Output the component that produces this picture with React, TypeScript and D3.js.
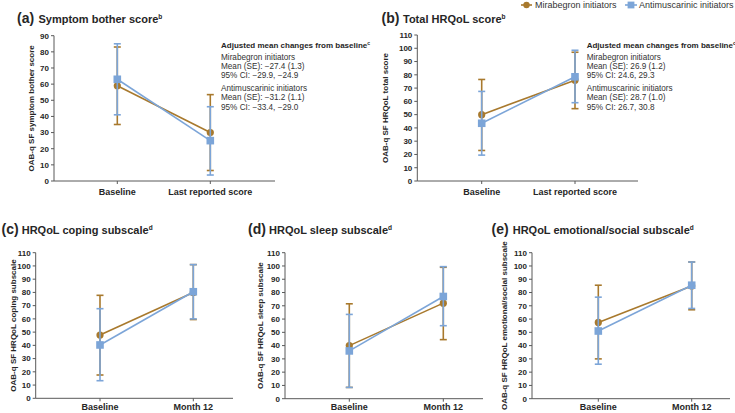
import React from "react";
import * as d3 from "d3";

// ---------- data ----------
const catsAB = ["Baseline", "Last reported score"];
const catsCDE = ["Baseline", "Month 12"];

const aMir = [59, 30];
const aMirLo = [35, 6.5];
const aMirHi = [83, 53.5];
const aAnt = [63, 25];
const aAntLo = [41, 3.7];
const aAntHi = [85, 46];

const bMir = [50, 76];
const bMirLo = [23, 54.5];
const bMirHi = [76.5, 97];
const bAnt = [43.5, 78.5];
const bAntLo = [19.5, 59];
const bAntHi = [67.5, 98.5];

const cMir = [47.8, 80];
const cMirLo = [17.6, 59.5];
const cMirHi = [77.8, 101];
const cAnt = [40.3, 80.5];
const cAntLo = [13.3, 60];
const cAntHi = [67.7, 101];

const dMir = [40, 72];
const dMirLo = [8.5, 44.5];
const dMirHi = [71.5, 99];
const dAnt = [36, 77];
const dAntLo = [8.5, 55];
const dAntHi = [63.5, 99.5];

const eMir = [57.5, 85];
const eMirLo = [30, 67];
const eMirHi = [85.5, 103];
const eAnt = [51, 85.5];
const eAntLo = [26, 68];
const eAntHi = [76.5, 103];

const seriesNames = ["Mirabegron initiators", "Antimuscarinic initiators"];
const annotHeading = "Adjusted mean changes from baseline";
const annotA = [
  "Mirabegron initiators",
  "Mean (SE): \u221227.4 (1.3)",
  "95% CI: \u221229.9, \u221224.9",
  "Antimuscarinic initiators",
  "Mean (SE): \u221231.2 (1.1)",
  "95% CI: \u221233.4, \u221229.0",
];
const annotB = [
  "Mirabegron initiators",
  "Mean (SE): 26.9 (1.2)",
  "95% CI: 24.6, 29.3",
  "Antimuscarinic initiators",
  "Mean (SE): 28.7 (1.0)",
  "95% CI: 26.7, 30.8",
];

// ---------- style ----------
const MIR = "#A8792D";
const ANT = "#7CA5D8";
const AXIS = "#595959";
const TEXT = "#262626";
const FONT = "'Liberation Sans', Arial, Helvetica, sans-serif";

type Series = { mean: number[]; lo: number[]; hi: number[]; color: string; shape: "circle" | "square" };

type PanelProps = {
  letter: string;
  title: string;
  sup: string;
  titleX: number;
  titleTextX: number;
  titleY: number;
  yLabel: string;
  yLabelX: number;
  axisX: number;
  axisEnd: number;
  catX: [number, number];
  yTop: number;
  yBot: number;
  yMax: number;
  cats: string[];
  catLabelY: number;
  series: Series[];
  annot?: string[];
  annotX?: number;
};

function Panel(p: PanelProps) {
  const y = d3.scaleLinear().domain([0, p.yMax]).range([p.yBot, p.yTop]);
  const x = d3.scalePoint<string>().domain(p.cats).range(p.catX).padding(0);
  const ticks = d3.range(0, p.yMax + 1, 10);
  const line = d3
    .line<number>()
    .x((_, i) => x(p.cats[i]) as number)
    .y((v) => y(v));
  const cap = 3.5;
  return (
    <g fontFamily={FONT}>
      {/* title */}
      <text x={p.titleX} y={p.titleY} fontSize={14} fontWeight="bold" fill={TEXT}>
        {p.letter}
      </text>
      <text x={p.titleTextX} y={p.titleY} fontSize={11} fontWeight="bold" fill={TEXT}>
        {p.title}
        <tspan fontSize={6.5} dy={-4.5}>
          {p.sup}
        </tspan>
      </text>
      {/* y axis */}
      <line x1={p.axisX} x2={p.axisX} y1={y(p.yMax)} y2={p.yBot} stroke={AXIS} strokeWidth={1} />
      {ticks.map((t) => (
        <g key={t}>
          <line x1={p.axisX - 3} x2={p.axisX} y1={y(t)} y2={y(t)} stroke={AXIS} strokeWidth={1} />
          <text
            x={p.axisX - 5}
            y={y(t)}
            dy="0.35em"
            textAnchor="end"
            fontSize={8}
            fontWeight="bold"
            fill={TEXT}
          >
            {t}
          </text>
        </g>
      ))}
      <text
        transform={`translate(${p.yLabelX},${(p.yTop + p.yBot) / 2}) rotate(-90)`}
        textAnchor="middle"
        dy="0.35em"
        fontSize={8}
        fontWeight="bold"
        fill={TEXT}
      >
        {p.yLabel}
      </text>
      {/* x axis */}
      <line x1={p.axisX} x2={p.axisEnd} y1={p.yBot} y2={p.yBot} stroke={AXIS} strokeWidth={1} />
      {p.cats.map((c) => (
        <g key={c}>
          <line
            x1={x(c) as number}
            x2={x(c) as number}
            y1={p.yBot}
            y2={p.yBot + 3}
            stroke={AXIS}
            strokeWidth={1}
          />
          <text
            x={x(c) as number}
            y={p.catLabelY}
            textAnchor="middle"
            fontSize={9}
            fontWeight="bold"
            fill={TEXT}
          >
            {c}
          </text>
        </g>
      ))}
      {/* series */}
      {p.series.map((s, si) => (
        <g key={si}>
          {s.mean.map((_, i) => {
            const cx = x(p.cats[i]) as number;
            return (
              <g key={i} stroke={s.color} strokeWidth={1.6}>
                <line x1={cx} x2={cx} y1={y(s.lo[i])} y2={y(s.hi[i])} />
                <line x1={cx - cap} x2={cx + cap} y1={y(s.lo[i])} y2={y(s.lo[i])} />
                <line x1={cx - cap} x2={cx + cap} y1={y(s.hi[i])} y2={y(s.hi[i])} />
              </g>
            );
          })}
          <path d={line(s.mean) || ""} fill="none" stroke={s.color} strokeWidth={1.6} />
          {s.mean.map((v, i) => {
            const cx = x(p.cats[i]) as number;
            return s.shape === "circle" ? (
              <circle key={i} cx={cx} cy={y(v)} r={3.6} fill={s.color} />
            ) : (
              <rect key={i} x={cx - 3.8} y={y(v) - 3.8} width={7.6} height={7.6} fill={s.color} />
            );
          })}
        </g>
      ))}
      {/* annotation */}
      {p.annot && p.annotX !== undefined && (
        <g fill={TEXT}>
          <text x={p.annotX} y={48} fontSize={8} fontWeight="bold">
            {annotHeading}
            <tspan fontSize={5} dy={-3}>
              c
            </tspan>
          </text>
          {p.annot.map((t, i) => (
            <text key={i} x={p.annotX} y={60 + i * 9.2 + (i >= 3 ? 3.6 : 0)} fontSize={8.2} fill="#333">
              {t}
            </text>
          ))}
        </g>
      )}
    </g>
  );
}

const mk = (mean: number[], lo: number[], hi: number[], color: string, shape: "circle" | "square"): Series => ({
  mean,
  lo,
  hi,
  color,
  shape,
});

export default function App() {
  return (
    <svg width={735} height={413} style={{ position: "absolute", left: 0, top: 0, background: "#fff" }}>
      {/* legend */}
      <g fontFamily={FONT} fontSize={9} fill="#333">
        <line x1={521} x2={532} y1={5} y2={5} stroke={MIR} strokeWidth={1.6} />
        <circle cx={526.5} cy={5} r={3.2} fill={MIR} />
        <text x={535} y={8.3}>
          {seriesNames[0]}
        </text>
        <line x1={625} x2={637} y1={5} y2={5} stroke={ANT} strokeWidth={1.6} />
        <rect x={627.6} y={1.6} width={6.8} height={6.8} fill={ANT} />
        <text x={639} y={8.3}>
          {seriesNames[1]}
        </text>
      </g>
      <Panel
        letter="(a)"
        title="Symptom bother score"
        sup="b"
        titleX={17}
        titleTextX={38.5}
        titleY={23}
        yLabel="OAB-q SF symptom bother score"
        yLabelX={31.5}
        axisX={54}
        axisEnd={275}
        catX={[117.3, 210.3]}
        yTop={35.7}
        yBot={181}
        yMax={90}
        cats={catsAB}
        catLabelY={195}
        series={[mk(aMir, aMirLo, aMirHi, MIR, "circle"), mk(aAnt, aAntLo, aAntHi, ANT, "square")]}
        annot={annotA}
        annotX={221}
      />
      <Panel
        letter="(b)"
        title="Total HRQoL score"
        sup="b"
        titleX={381.5}
        titleTextX={403}
        titleY={23}
        yLabel="OAB-q SF HRQoL total score"
        yLabelX={385}
        axisX={417.3}
        axisEnd={638}
        catX={[481.7, 575]}
        yTop={35}
        yBot={181}
        yMax={110}
        cats={catsAB}
        catLabelY={195}
        series={[mk(bMir, bMirLo, bMirHi, MIR, "circle"), mk(bAnt, bAntLo, bAntHi, ANT, "square")]}
        annot={annotB}
        annotX={586.7}
      />
      <Panel
        letter="(c)"
        title="HRQoL coping subscale"
        sup="d"
        titleX={1.5}
        titleTextX={21.7}
        titleY={234}
        yLabel="OAB-q SF HRQoL coping subscale"
        yLabelX={13.3}
        axisX={35.7}
        axisEnd={233}
        catX={[100, 193.3]}
        yTop={252.7}
        yBot={398.3}
        yMax={110}
        cats={catsCDE}
        catLabelY={410}
        series={[mk(cMir, cMirLo, cMirHi, MIR, "circle"), mk(cAnt, cAntLo, cAntHi, ANT, "square")]}
      />
      <Panel
        letter="(d)"
        title="HRQoL sleep subscale"
        sup="d"
        titleX={248}
        titleTextX={269}
        titleY={234}
        yLabel="OAB-q SF HRQoL sleep subscale"
        yLabelX={260}
        axisX={285}
        axisEnd={483}
        catX={[349.3, 443.3]}
        yTop={252.7}
        yBot={398.7}
        yMax={110}
        cats={catsCDE}
        catLabelY={410}
        series={[mk(dMir, dMirLo, dMirHi, MIR, "circle"), mk(dAnt, dAntLo, dAntHi, ANT, "square")]}
      />
      <Panel
        letter="(e)"
        title="HRQoL emotional/social subscale"
        sup="d"
        titleX={491.5}
        titleTextX={512.7}
        titleY={234}
        yLabel="OAB-q SF HRQoL emotional/social subscale"
        yLabelX={504}
        axisX={532}
        axisEnd={730}
        catX={[598.3, 691.7]}
        yTop={252.7}
        yBot={398.7}
        yMax={110}
        cats={catsCDE}
        catLabelY={410}
        series={[mk(eMir, eMirLo, eMirHi, MIR, "circle"), mk(eAnt, eAntLo, eAntHi, ANT, "square")]}
      />
    </svg>
  );
}
